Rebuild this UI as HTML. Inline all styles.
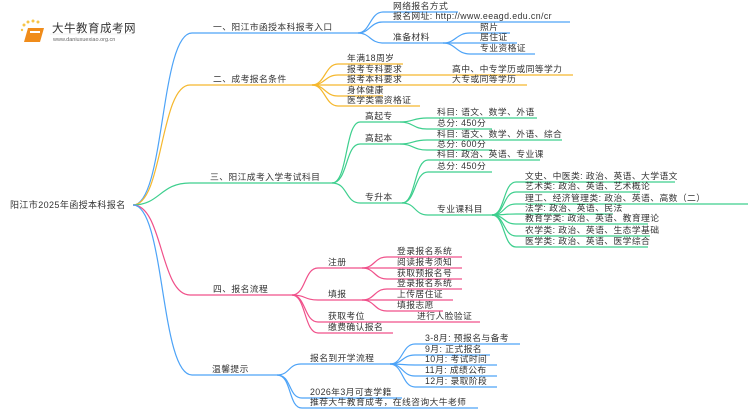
<!DOCTYPE html>
<html><head><meta charset="utf-8"><style>
html,body{margin:0;padding:0;background:#fff;width:750px;height:410px;overflow:hidden}
svg text{font-family:"Liberation Sans","Noto Sans CJK SC",sans-serif;font-size:8.8px;letter-spacing:0.4px;fill:#333}
path{fill:none;stroke-width:1.2}
.b{stroke:#4da3f7}.o{stroke:#f5b82e}.g{stroke:#3ecf8e}.p{stroke:#f0508a}
</style></head><body>
<svg width="750" height="410" viewBox="0 0 750 410" xmlns="http://www.w3.org/2000/svg">
<!-- logo -->
<g>
<circle cx="24" cy="25" r="1.5" fill="#f7c548"/><circle cx="28" cy="22" r="1.5" fill="#f7c548"/><circle cx="33" cy="21" r="1.5" fill="#f7c548"/><circle cx="38" cy="22" r="1.5" fill="#f7c548"/><circle cx="22" cy="30" r="1.2" fill="#f7c548"/>
<path d="M28 28 L44 28 L40 42 L24 42 Z" style="fill:#f08c1a;stroke:none"/>
<rect x="30" y="31" width="10" height="2" fill="#fff"/>
<text x="52" y="32" style="font-size:11.5px;fill:#333;letter-spacing:0.5px">大牛教育成考网</text>
<text x="53" y="41" style="font-size:5.5px;fill:#666;letter-spacing:0">www.daniuxuexiao.org.cn</text>
<path d="M50 34 H132" style="stroke:#eee;stroke-width:0.8"/>
</g>
<text x="10" y="208" style="font-size:9px">阳江市2025年函授本科报名</text>
<!-- branch1 -->
<path class="b" d="M133 205 C165 205,160 33,192 33 H358"/>
<path class="b" d="M358 33 C370 33,370 12,383 12 H458"/>
<path class="b" d="M358 33 C370 33,370 22,383 22 H570"/>
<path class="b" d="M358 33 C370 33,370 43,383 43 H443"/>
<path class="b" d="M443 43 C456 43,456 33,470 33 H510"/>
<path class="b" d="M443 43 H517"/>
<path class="b" d="M443 43 C456 43,456 54,470 54 H535"/>
<text x="213" y="30">一、阳江市函授本科报考入口</text>
<text x="393" y="9">网络报名方式</text>
<text x="393" y="19">报名网址: http://www.eeagd.edu.cn/cr</text>
<text x="393" y="40">准备材料</text>
<text x="480" y="30">照片</text>
<text x="480" y="40">居住证</text>
<text x="480" y="51">专业资格证</text>
<!-- branch2 -->
<path class="o" d="M133 205 C163 205,160 85,190 85 H312"/>
<path class="o" d="M312 85 C325 85,325 64,338 64 H403"/>
<path class="o" d="M312 85 C325 85,325 75,338 75 H573"/>
<path class="o" d="M312 85 H527"/>
<path class="o" d="M312 85 C325 85,325 96,338 96 H383"/>
<path class="o" d="M312 85 C325 85,325 106,338 106 H420"/>
<text x="213" y="82">二、成考报名条件</text>
<text x="347" y="61">年满18周岁</text>
<text x="347" y="72">报考专科要求</text>
<text x="452" y="72">高中、中专学历或同等学力</text>
<text x="347" y="82">报考本科要求</text>
<text x="452" y="82">大专或同等学历</text>
<text x="347" y="93">身体健康</text>
<text x="347" y="103">医学类需资格证</text>
<!-- branch3 -->
<path class="g" d="M133 205 C160 205,160 183,190 183 H332"/>
<path class="g" d="M332 183 C348 183,345 122,360 122 H400"/>
<path class="g" d="M332 183 C348 183,345 144,360 144 H400"/>
<path class="g" d="M332 183 C348 183,345 203,360 203 H402"/>
<path class="g" d="M400 122 C413 122,413 118,427 118 H537"/>
<path class="g" d="M400 122 C413 122,413 129,427 129 H492"/>
<path class="g" d="M400 144 C413 144,413 140,427 140 H562"/>
<path class="g" d="M400 144 C413 144,413 150,427 150 H492"/>
<path class="g" d="M402 203 C416 203,414 160,428 160 H540"/>
<path class="g" d="M402 203 C416 203,414 172,428 172 H492"/>
<path class="g" d="M402 203 C416 203,414 215,428 215 H492"/>
<path class="g" d="M492 215 C505 215,503 182,516 182 H675"/>
<path class="g" d="M492 215 C505 215,503 192,516 192 H640"/>
<path class="g" d="M492 215 C505 215,503 204,516 204 H748"/>
<path class="g" d="M492 215 C505 215,503 214,516 214 H613"/>
<path class="g" d="M492 215 C505 215,503 224,516 224 H648"/>
<path class="g" d="M492 215 C505 215,503 236,516 236 H650"/>
<path class="g" d="M492 215 C505 215,503 247,516 247 H648"/>
<text x="210" y="180">三、阳江成考入学考试科目</text>
<text x="365" y="119">高起专</text>
<text x="365" y="141">高起本</text>
<text x="365" y="200">专升本</text>
<text x="437" y="115">科目: 语文、数学、外语</text>
<text x="437" y="126">总分: 450分</text>
<text x="437" y="137">科目: 语文、数学、外语、综合</text>
<text x="437" y="147">总分: 600分</text>
<text x="437" y="157">科目: 政治、英语、专业课</text>
<text x="437" y="169">总分: 450分</text>
<text x="437" y="212">专业课科目</text>
<text x="525" y="179">文史、中医类: 政治、英语、大学语文</text>
<text x="525" y="189">艺术类: 政治、英语、艺术概论</text>
<text x="525" y="201">理工、经济管理类: 政治、英语、高数（二）</text>
<text x="525" y="211">法学: 政治、英语、民法</text>
<text x="525" y="221">教育学类: 政治、英语、教育理论</text>
<text x="525" y="233">农学类: 政治、英语、生态学基础</text>
<text x="525" y="244">医学类: 政治、英语、医学综合</text>
<!-- branch4 -->
<path class="p" d="M133 205 C163 205,160 295,190 295 H292"/>
<path class="p" d="M292 295 C306 295,304 268,318 268 H362"/>
<path class="p" d="M292 295 C306 295,304 300,318 300 H362"/>
<path class="p" d="M292 295 C306 295,304 322,318 322 H480"/>
<path class="p" d="M292 295 C306 295,304 333,318 333 H393"/>
<path class="p" d="M362 268 C375 268,374 257,387 257 H462"/>
<path class="p" d="M362 268 H462"/>
<path class="p" d="M362 268 C375 268,374 279,387 279 H462"/>
<path class="p" d="M362 300 C375 300,374 289,387 289 H462"/>
<path class="p" d="M362 300 H453"/>
<path class="p" d="M362 300 C375 300,374 311,387 311 H443"/>
<text x="213" y="292">四、报名流程</text>
<text x="328" y="265">注册</text>
<text x="328" y="297">填报</text>
<text x="328" y="319">获取考位</text>
<text x="417" y="319">进行人脸验证</text>
<text x="328" y="330">缴费确认报名</text>
<text x="397" y="254">登录报名系统</text>
<text x="397" y="265">阅读报考须知</text>
<text x="397" y="276">获取预报名号</text>
<text x="397" y="286">登录报名系统</text>
<text x="397" y="297">上传居住证</text>
<text x="397" y="308">填报志愿</text>
<!-- branch5 -->
<path class="b" d="M133 205 C165 205,160 375,192 375 H277"/>
<path class="b" d="M277 375 C290 375,288 364,301 364 H390"/>
<path class="b" d="M277 375 C292 375,288 398,302 398 H402"/>
<path class="b" d="M277 375 C292 375,288 408,302 408 H478"/>
<path class="b" d="M390 364 C403 364,402 344,415 344 H520"/>
<path class="b" d="M390 364 C403 364,402 355,415 355 H490"/>
<path class="b" d="M390 364 C403 364,402 365,415 365 H497"/>
<path class="b" d="M390 364 C403 364,402 376,415 376 H497"/>
<path class="b" d="M390 364 C403 364,402 387,415 387 H497"/>
<text x="212" y="372">温馨提示</text>
<text x="310" y="361">报名到开学流程</text>
<text x="310" y="395">2026年3月可查学籍</text>
<text x="310" y="405">推荐大牛教育成考，在线咨询大牛老师</text>
<text x="425" y="341">3-8月: 预报名与备考</text>
<text x="425" y="352">9月: 正式报名</text>
<text x="425" y="362">10月: 考试时间</text>
<text x="425" y="373">11月: 成绩公布</text>
<text x="425" y="384">12月: 录取阶段</text>
</svg>
</body></html>
